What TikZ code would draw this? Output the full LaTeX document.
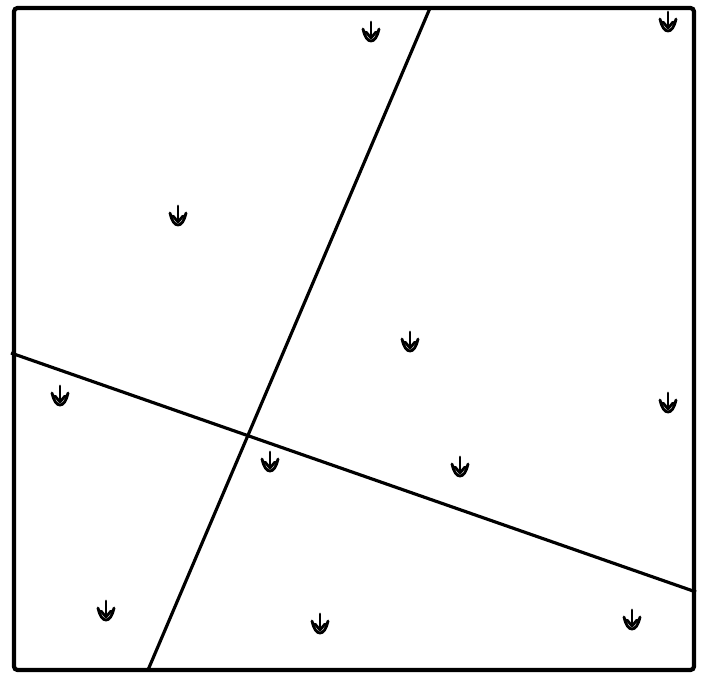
\documentclass[tikz,border=0pt]{standalone}
\usepackage{tikz}
\usetikzlibrary{calc}

\tikzset{
    frame/.style={line width=2.4pt, rounded corners=2pt},
    cut/.style={line width=1.8pt},
    sprout/.pic={
        \draw[line width=1.6pt, line cap=round] (0,-10) -- (0,6);
        \draw[line width=1.6pt, line cap=round, line join=round] (-5,0) -- (0,6) -- (5,0);
        \draw[line width=1.6pt, line cap=round] (-8,-3) .. controls (-6,6) and (-3,9) .. (0,9) .. controls (3,9) and (6,6) .. (8,-3);
    }
}

\begin{document}
\begin{tikzpicture}[x=0.02cm, y=-0.02cm]

% page
\useasboundingbox (0,0) rectangle (707,675);

% corners of the plot
\coordinate (nw) at (14,8);
\coordinate (se) at (694,670);

% the two cut lines
\coordinate (a1) at (430,8);
\coordinate (a2) at (148,670);
\coordinate (b1) at (11,353);
\coordinate (b2) at (696,592);

\draw[frame] (nw) rectangle (se);
\draw[cut] (a1) -- (a2);
\draw[cut] (b1) -- (b2);

% sprouts
\foreach \px/\py in {371/32, 668/22, 178/216, 410/342, 60/396, 668/403,
                     270/462, 460/467, 106/611, 320/624, 632/620}
    \pic at (\px,\py) {sprout};

\end{tikzpicture}
\end{document}
